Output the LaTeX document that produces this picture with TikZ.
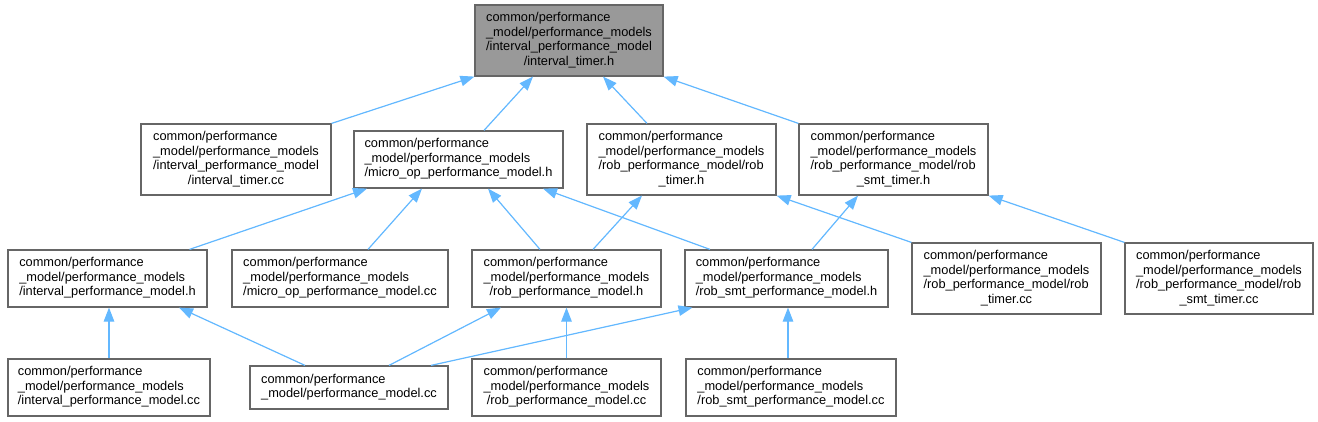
\documentclass[tikz,border=0pt]{standalone}
\usepackage{fontspec}
\setmainfont{Liberation Sans}
\usetikzlibrary{arrows.meta}
\definecolor{edgeblue}{HTML}{63B8FF}
\definecolor{boxline}{HTML}{666666}
\definecolor{rootfill}{HTML}{999999}
\newcommand{\flab}[2]{\begin{tabular}{@{}l@{}}#1\\\multicolumn{1}{@{}c@{}}{#2}\end{tabular}}
\begin{document}
\begin{tikzpicture}[line cap=butt,line join=miter,>={Stealth[inset=0pt,length=14pt,width=10.5pt]},x=1pt,y=-1pt]
			\tikzset{file/.style={draw=boxline,line width=1.2pt,fill=white,inner sep=0pt,
					font=\fontsize{12.8}{14.5}\selectfont},
				dep/.style={draw=edgeblue,line width=1.2pt,->,fill=edgeblue}
			}
			\useasboundingbox (0,0) rectangle (1318,422);
			\node[file,fill=rootfill,minimum width=188,minimum height=71] (itimerh) at (569,40.5)
				{\flab{common/performance\\\_model/performance\_models\\/interval\_performance\_model}{/interval\_timer.h}};
			\node[file,minimum width=190,minimum height=71] (itimercc) at (236,159.5)
				{\flab{common/performance\\\_model/performance\_models\\/interval\_performance\_model}{/interval\_timer.cc}};
			\node[file,minimum width=209,minimum height=57] (microh) at (458.5,159.5)
				{\flab{common/performance\\\_model/performance\_models}{/micro\_op\_performance\_model.h}};
			\node[file,minimum width=189,minimum height=71] (robtimerh) at (681.5,159.5)
				{\flab{common/performance\\\_model/performance\_models\\/rob\_performance\_model/rob}{\_timer.h}};
			\node[file,minimum width=189,minimum height=71] (robsmttimerh) at (893.5,159.5)
				{\flab{common/performance\\\_model/performance\_models\\/rob\_performance\_model/rob}{\_smt\_timer.h}};
			\node[file,minimum width=199,minimum height=57] (intervalh) at (107.5,278.5)
				{\flab{common/performance\\\_model/performance\_models}{/interval\_performance\_model.h}};
			\node[file,minimum width=216,minimum height=57] (microcc) at (340,278.5)
				{\flab{common/performance\\\_model/performance\_models}{/micro\_op\_performance\_model.cc}};
			\node[file,minimum width=189,minimum height=57] (robh) at (566.5,278.5)
				{\flab{common/performance\\\_model/performance\_models}{/rob\_performance\_model.h}};
			\node[file,minimum width=203,minimum height=57] (robsmth) at (786.5,278.5)
				{\flab{common/performance\\\_model/performance\_models}{/rob\_smt\_performance\_model.h}};
			\node[file,minimum width=189,minimum height=71] (robtimercc) at (1006.5,278.5)
				{\flab{common/performance\\\_model/performance\_models\\/rob\_performance\_model/rob}{\_timer.cc}};
			\node[file,minimum width=188,minimum height=71] (robsmttimercc) at (1219,278.5)
				{\flab{common/performance\\\_model/performance\_models\\/rob\_performance\_model/rob}{\_smt\_timer.cc}};
			\node[file,minimum width=202,minimum height=57] (intervalcc) at (109,387.5)
				{\flab{common/performance\\\_model/performance\_models}{/interval\_performance\_model.cc}};
			\node[file,minimum width=198,minimum height=43] (perfcc) at (349,387.5)
				{\flab{common/performance}{\_model/performance\_model.cc}};
			\node[file,minimum width=189,minimum height=57] (robcc) at (566.5,387.5)
				{\flab{common/performance\\\_model/performance\_models}{/rob\_performance\_model.cc}};
			\node[file,minimum width=210,minimum height=57] (robsmtcc) at (791,387.5)
				{\flab{common/performance\\\_model/performance\_models}{/rob\_smt\_performance\_model.cc}};
			\draw[dep] (itimercc.north east) -- (itimerh.south west);
			\draw[dep] ([xshift=25.5]microh.north) -- ([xshift=-36]itimerh.south);
			\draw[dep] ([xshift=-34.5]robtimerh.north) -- ([xshift=34]itimerh.south);
			\draw[dep] (robsmttimerh.north west) -- (itimerh.south east);
			\draw[dep] ([xshift=82]intervalh.north) -- ([xshift=-91.5]microh.south);
			\draw[dep] ([xshift=28]microcc.north) -- ([xshift=-36.5]microh.south);
			\draw[dep] ([xshift=-26.5]robh.north) -- ([xshift=29.5]microh.south);
			\draw[dep] ([xshift=-76.5]robsmth.north) -- ([xshift=84.5]microh.south);
			\draw[dep] ([xshift=26.5]robh.north) -- ([xshift=-39.5]robtimerh.south);
			\draw[dep] ([xshift=25.5]robsmth.north) -- ([xshift=-35.5]robsmttimerh.south);
			\draw[dep] (robtimercc.north west) -- (robtimerh.south east);
			\draw[dep] (robsmttimercc.north west) -- (robsmttimerh.south east);
			\draw[dep] (intervalcc.north) -- (intervalcc.north |- intervalh.south);
			\draw[dep] ([xshift=-44]perfcc.north) -- ([xshift=71.5]intervalh.south);
			\draw[dep] ([xshift=40]perfcc.north) -- ([xshift=-65.5]robh.south);
			\draw[dep] ([xshift=82]perfcc.north) -- ([xshift=-94]robsmth.south);
			\draw[dep] (robcc.north) -- (robh.south);
			\draw[dep] ([xshift=-3]robsmtcc.north) -- ([xshift=1.5]robsmth.south);
	\end{tikzpicture}
\end{document}
